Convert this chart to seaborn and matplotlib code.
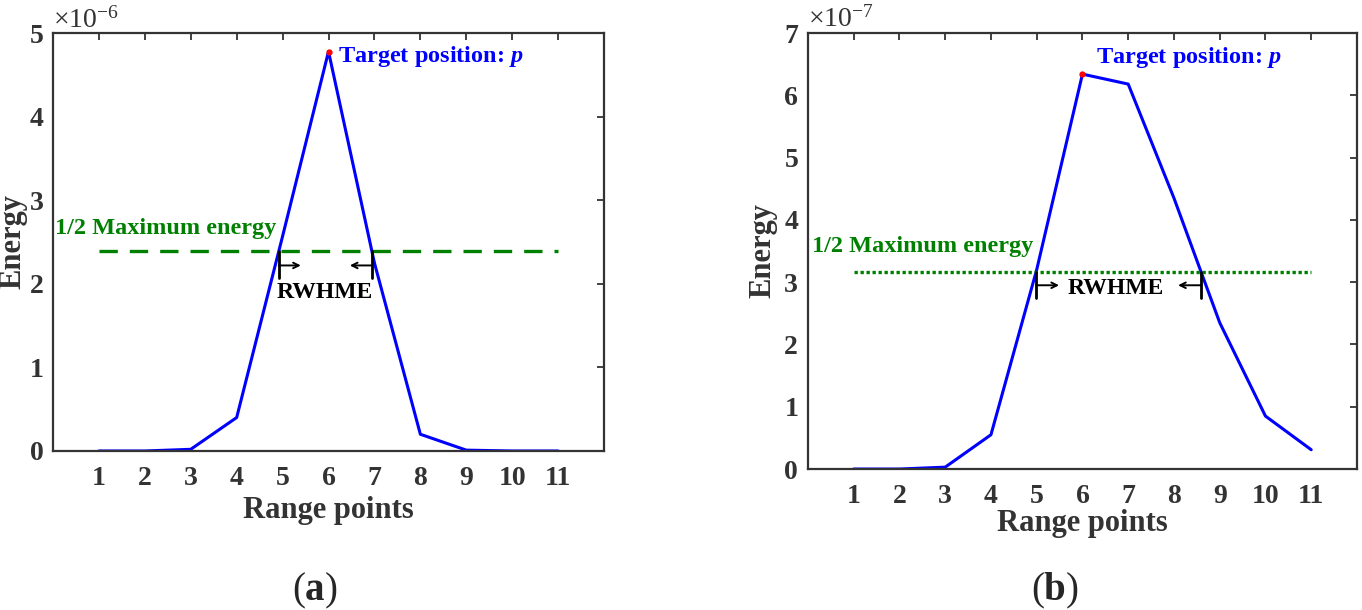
import numpy as np
import matplotlib
matplotlib.use("Agg")
import matplotlib.pyplot as plt
import seaborn as sns

# Range points and energy values
points = [1, 2, 3, 4, 5, 6, 7, 8, 9, 10, 11]
energy_a = [0.0, 0.0, 0.02, 0.40, 2.57, 4.78, 2.25, 0.20, 0.01, 0.0, 0.0]   # x 1e-6
energy_b = [0.0, 0.0, 0.03, 0.55, 3.20, 6.34, 6.18, 4.35, 2.35, 0.85, 0.31]  # x 1e-7
ylims_a = (0, 5)
ylims_b = (0, 7)
exp_a = -6
exp_b = -7

sns.set_style("white")
plt.rcParams['font.family'] = ['Liberation Serif', 'DejaVu Serif']
plt.rcParams['mathtext.fontset'] = 'custom'
plt.rcParams['mathtext.rm'] = 'Liberation Serif'
plt.rcParams['mathtext.it'] = 'Liberation Serif:italic:bold'
plt.rcParams['mathtext.bf'] = 'Liberation Serif:bold'

AX_COL = '#333333'
GREEN = '#008000'

fig = plt.figure(figsize=(13.62, 6.10), dpi=100)
ax_a = fig.add_axes([0.0389, 0.2607, 0.4046, 0.685])
ax_b = fig.add_axes([0.5932, 0.2311, 0.4031, 0.7148])


def half_crossings(x, y, half):
    x = np.asarray(x, float)
    y = np.asarray(y, float)
    k = int(np.argmax(y))
    left = np.interp(half, y[:k + 1], x[:k + 1])
    right = np.interp(half, y[k:][::-1], x[k:][::-1])
    return left, right


def draw_panel(ax, energy, ylims, expo, dash, tp_xy, half_txt_xy, bar_len, arrow_dy,
               arrow_len, rw_xy, xlab_y, ylab_x):
    sns.lineplot(x=points, y=energy, ax=ax, color='blue', linewidth=2.2)
    k = int(np.argmax(energy))
    peak = energy[k]
    half = peak / 2
    ax.plot(points[k], peak, 'o', color='red', markersize=3.5, zorder=5)
    sns.lineplot(x=[points[0], points[-1]], y=[half, half], ax=ax, color=GREEN,
                 linewidth=2.4, linestyle=dash)

    ax.set_xlim(0, 12)
    ax.set_ylim(*ylims)
    ax.set_xticks(points)
    ax.set_yticks(range(ylims[0], ylims[1] + 1))
    ax.tick_params(direction='in', length=5, width=1.3, top=True, right=True,
                   labelsize=20, labelcolor=AX_COL, color=AX_COL, pad=7)
    ax.tick_params(axis='x', pad=11)
    for lab in ax.get_xticklabels() + ax.get_yticklabels():
        lab.set_fontweight('bold')
    for sp in ax.spines.values():
        sp.set_color(AX_COL)
        sp.set_linewidth(1.6)

    ax.set_xlabel('Range points', fontsize=22, fontweight='bold', color=AX_COL)
    ax.xaxis.set_label_coords(0.5, xlab_y)
    ax.set_ylabel('Energy', fontsize=22, fontweight='bold', color=AX_COL)
    ax.yaxis.set_label_coords(ylab_x, 0.5)
    ax.text(0.0, 1.0, r'$\times 10^{%d}$' % expo, transform=ax.transAxes,
            fontsize=20, color=AX_COL, ha='left', va='bottom')

    ax.text(tp_xy[0], tp_xy[1], r'Target position: $\mathit{p}$', color='blue',
            fontsize=17.5, fontweight='bold', ha='left', va='center')
    ax.text(half_txt_xy[0], half_txt_xy[1], '1/2 Maximum energy', color=GREEN,
            fontsize=17.5, fontweight='bold', ha='left', va='center')

    xl, xr = half_crossings(points, energy, half)
    for xb, sgn in [(xl, 1), (xr, -1)]:
        ax.plot([xb, xb], [half, half - bar_len], color='black', lw=2.0)
        ya = half - arrow_dy
        ax.annotate('', xy=(xb + sgn * arrow_len, ya), xytext=(xb, ya),
                    arrowprops=dict(arrowstyle='->', lw=1.4, color='black',
                                    shrinkA=0, shrinkB=0))
    ax.text(rw_xy[0], rw_xy[1], 'RWHME', color='black', fontsize=17,
            fontweight='bold', ha='center', va='center')


draw_panel(ax_a, energy_a, ylims_a, exp_a, (0, (5.5, 3.6)),
           tp_xy=(6.2, 4.72), half_txt_xy=(0.04, 2.66), bar_len=0.32,
           arrow_dy=0.17, arrow_len=0.48, rw_xy=(5.92, 1.9), xlab_y=-0.108,
           ylab_x=-0.047)
draw_panel(ax_b, energy_b, ylims_b, exp_b, (0, (1.0, 0.8)),
           tp_xy=(6.3, 6.6), half_txt_xy=(0.08, 3.57), bar_len=0.42,
           arrow_dy=0.22, arrow_len=0.5, rw_xy=(6.72, 2.9), xlab_y=-0.092,
           ylab_x=-0.055)

fig.text(0.2313, 0.032, r'($\mathbf{a}$)', fontsize=28, ha='center', va='center')
fig.text(0.7746, 0.032, r'($\mathbf{b}$)', fontsize=28, ha='center', va='center')

fig.savefig('out.png', dpi=100, facecolor='white')
